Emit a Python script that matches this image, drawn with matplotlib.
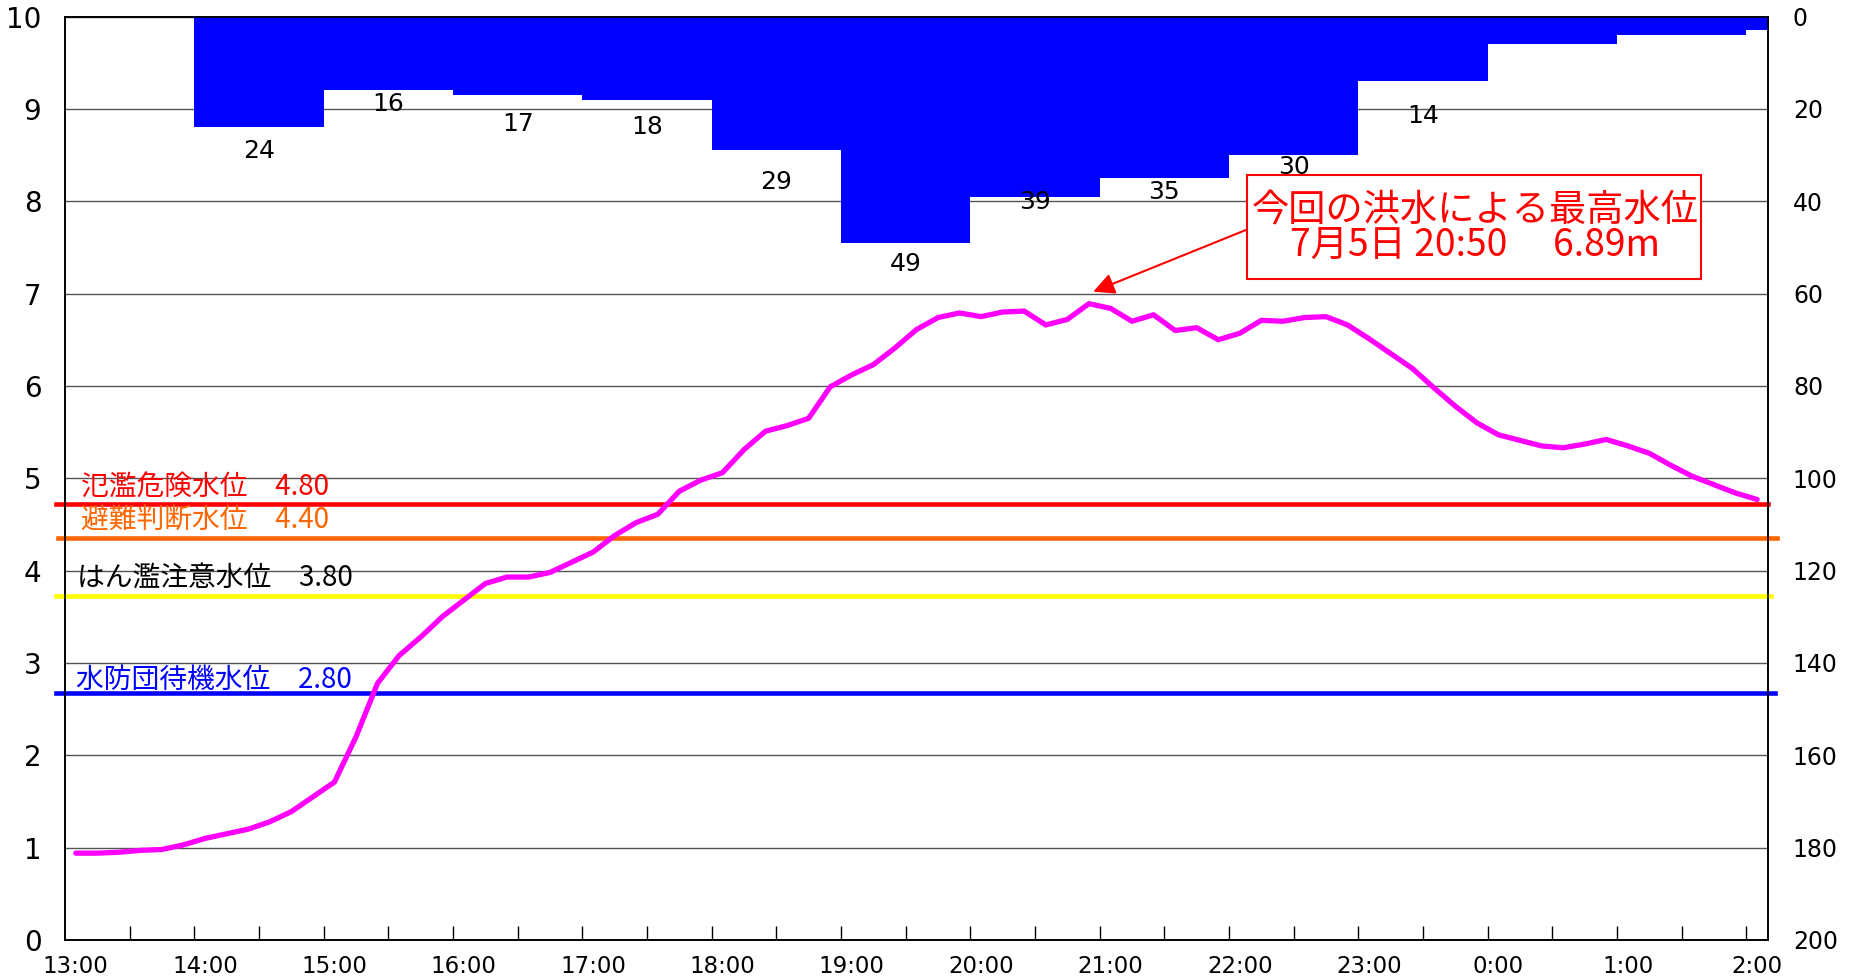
import numpy as np
import matplotlib
matplotlib.use('Agg')
import matplotlib.pyplot as plt
from matplotlib.patches import Rectangle

plt.rcParams['font.family'] = ['Noto Sans CJK JP', 'DejaVu Sans']

# ==================== データ ====================
# 10分毎の水位 (m)  13:00 ～ 翌2:00
water_level = [
    0.94, 0.94, 0.95, 0.97, 0.98, 1.03,   # 13:00-13:50
    1.10, 1.15, 1.20, 1.28, 1.39, 1.55,   # 14:00-
    1.71, 2.20, 2.78, 3.08, 3.28, 3.50,   # 15:00-
    3.68, 3.86, 3.93, 3.93, 3.98, 4.09,   # 16:00-
    4.20, 4.38, 4.52, 4.61, 4.86, 4.98,   # 17:00-
    5.06, 5.31, 5.51, 5.57, 5.65, 5.99,   # 18:00-
    6.12, 6.23, 6.41, 6.61, 6.74, 6.79,   # 19:00-
    6.75, 6.80, 6.81, 6.66, 6.72, 6.89,   # 20:00-
    6.84, 6.70, 6.77, 6.60, 6.63, 6.50,   # 21:00-
    6.57, 6.71, 6.70, 6.74, 6.75, 6.66,   # 22:00-
    6.51, 6.35, 6.19, 5.98, 5.78, 5.60,   # 23:00-
    5.47, 5.41, 5.35, 5.33, 5.37, 5.42,   # 0:00-
    5.35, 5.27, 5.14, 5.02, 4.93, 4.84,   # 1:00-
    4.77,                                 # 2:00
]

# 時間雨量 (mm)
rain = [24, 16, 17, 18, 29, 49, 39, 35, 30, 14, 6, 4, 3]

hour_labels = ['13:00', '14:00', '15:00', '16:00', '17:00', '18:00', '19:00',
               '20:00', '21:00', '22:00', '23:00', '0:00', '1:00', '2:00']

# 基準水位（表示位置 / ラベル）
level_pos = [4.72, 4.35, 3.72, 2.67]
level_names = ['氾濫危険水位　4.80', '避難判断水位　4.40',
               'はん濫注意水位　3.80', '水防団待機水位　2.80']
level_colors = ['#FF0000', '#FF6600', '#FFFF00', '#0000FF']
level_text_colors = ['#FF0000', '#FF6600', '#000000', '#0000FF']

peak_text1 = '今回の洪水による最高水位'
peak_text2 = '7月5日 20:50　 6.89m'

# ==================== 描画 ====================
narrow = ['Liberation Sans Narrow', 'DejaVu Sans Condensed']

fig = plt.figure(figsize=(18.52, 9.77), dpi=100)
ax1 = fig.add_axes([0.0351, 0.0379, 0.9195, 0.9452])
ax2 = ax1.twinx()

x = np.arange(len(water_level))
ax1.set_xlim(-0.5, len(water_level) - 0.5)
ax1.set_ylim(0, 10)
ax1.set_yticks(range(11))
ax1.grid(axis='y', color='#555555', lw=1)
ax1.set_axisbelow(True)

ax1.plot(x, water_level, color='#FF00FF', lw=3.8, solid_capstyle='round', zorder=4)

# 基準水位線
x_ext = [(-0.92, 78.5), (-0.81, 78.92), (-0.92, 78.64), (-0.92, 78.83)]
text_x = [0.25, 0.25, 0.05, 0.0]
text_dy = [0.18, 0.2, 0.2, 0.15]
for y, name, c, tc, (xa, xb), tx, dy in zip(level_pos, level_names, level_colors,
                                             level_text_colors, x_ext, text_x, text_dy):
    ax1.plot([xa, xb], [y, y], color=c, lw=3.3, clip_on=False, zorder=3)
    ax1.text(tx, y + dy, name, color=tc, fontsize=20, va='center', ha='left', zorder=5)

# x軸
ax1.set_xticks(np.arange(0, len(water_level), 6))
ax1.set_xticklabels(hour_labels, fontfamily=narrow, fontsize=16.5)
ax1.set_xticks(np.arange(2.5, len(water_level) - 1, 3), minor=True)
ax1.tick_params(axis='x', which='major', length=0, pad=11)
ax1.tick_params(axis='x', which='minor', length=10, direction='in', width=1)
ax1.tick_params(axis='y', length=0, pad=17)
for lab in ax1.get_yticklabels():
    lab.set_fontfamily(narrow)
    lab.set_fontsize(20)

# 雨量（逆軸）
bar_x = 8.5 + 6 * np.arange(len(rain))
ax2.bar(bar_x, rain, width=6, color='#0000FF', edgecolor='none', zorder=2)
ax2.set_ylim(200, 0)
ax2.set_yticks(range(0, 201, 20))
ax2.tick_params(axis='y', length=0, pad=18, labelsize=17)
for lab in ax2.get_yticklabels():
    lab.set_fontfamily('DejaVu Sans')

# データラベル（Excel風に位置がばらつく）
label_dy = [5.2, 2.9, 6.3, 6.0, 6.8, 4.5, 1.2, 2.9, 2.7, 7.5]
for bx, r, dy in zip(bar_x, rain, label_dy):
    ax2.text(bx, r + dy, str(r), ha='center', va='center',
             fontsize=18, fontfamily=narrow, zorder=3)
ax2.set_xlim(-0.5, len(water_level) - 0.5)

for ax in (ax1, ax2):
    for s in ax.spines.values():
        s.set_color('black')
        s.set_linewidth(1.2)

# 最高水位の注記
ax2.annotate('', xy=(47.2, 7.02), xycoords=ax1.transData,
             xytext=(54.3, 7.69), textcoords=ax1.transData,
             arrowprops=dict(arrowstyle='-|>', color='#FF0000', lw=1.5,
                             mutation_scale=32, shrinkA=0, shrinkB=0))
fig.add_artist(Rectangle((0.6733, 0.7149), 0.2451, 0.1064, transform=fig.transFigure,
                         facecolor='white', edgecolor='#FF0000', lw=1.5, zorder=5))
fig.text(0.676, 0.785, peak_text1, color='#FF0000', fontsize=26.8,
         ha='left', va='center', zorder=6)
fig.text(0.6965, 0.7492, peak_text2, color='#FF0000', fontsize=26.8,
         ha='left', va='center', zorder=6)

fig.savefig('out.png', dpi=100)
